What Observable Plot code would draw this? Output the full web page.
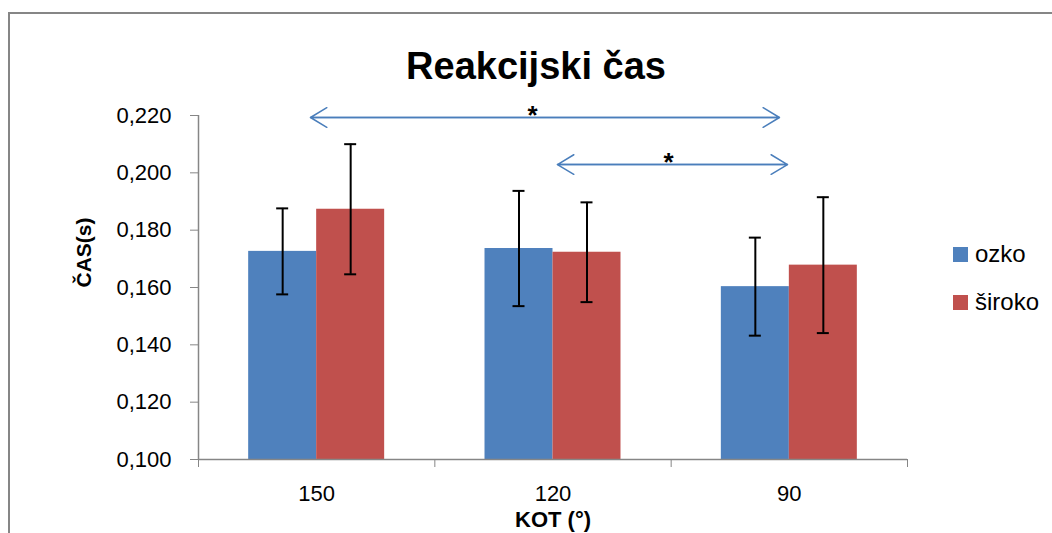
<!DOCTYPE html>
<html>
<head>
<meta charset="utf-8">
<script src="https://cdn.jsdelivr.net/npm/d3@7"></script>
<script src="https://cdn.jsdelivr.net/npm/@observablehq/plot@0.6"></script>
<style>
  html, body { margin: 0; padding: 0; background: #fff; overflow: hidden; }
  #wrap { position: relative; width: 1052px; height: 533px; font-family: "Liberation Sans", Arial, sans-serif; }
  #frame { position: absolute; left: 8px; top: 12px; width: 1200px; height: 700px;
           border-top: 2px solid #868686; border-left: 2px solid #868686; }
  #title { position: relative; height: 100px; }
  #title span { position: absolute; left: 536px; top: 47px; transform: translateX(-50%);
                font-size: 38px; font-weight: bold; line-height: 38px; white-space: nowrap; color: #000; }
  #chart { position: relative; }
  #legend { position: absolute; left: 953px; top: 230px; }
  .row { display: flex; align-items: center; height: 48px; font-size: 24px; color: #000; }
  .sw { width: 15px; height: 15px; margin-right: 7px; }
</style>
</head>
<body>
<div id="wrap">
  <div id="frame"></div>
  <div id="title"><span id="titleText"></span></div>
  <div id="chart"></div>
  <div id="legend"></div>
</div>
<script>
// ---- data ----
const titleText = "Reakcijski čas";
const categories = ["150", "120", "90"];
const seriesNames = ["ozko", "široko"];
const seriesColors = ["#4F81BD", "#C0504D"];
const ozko = [0.1726, 0.1736, 0.1603];
const ozkoErr = [0.0150, 0.0201, 0.0171];
const siroko = [0.1873, 0.1723, 0.1678];
const sirokoErr = [0.0227, 0.0174, 0.0237];
const yTicks = [0.100, 0.120, 0.140, 0.160, 0.180, 0.200, 0.220];
const yTickLabels = ["0,100", "0,120", "0,140", "0,160", "0,180", "0,200", "0,220"];
const yLabel = "ČAS(s)";
const xLabel = "KOT (°)";
// significance arrows (x in category-band units, y in seconds)
const arrowStart = [0.474, 1.519];
const arrowEnd = [2.458, 2.492];
const arrowLevel = [0.2193, 0.2029];
const starX = [1.413, 1.989];
const starText = ["*", "*"];

// ---- build ----
document.getElementById("titleText").textContent = titleText;

const barFrac = 0.2877; // bar width as fraction of category band
const rows = [];
categories.forEach((c, i) => {
  [[ozko, ozkoErr], [siroko, sirokoErr]].forEach(([vals, errs], s) => {
    const x1 = s === 0 ? i + 0.5 - barFrac : i + 0.5;
    const x2 = s === 0 ? i + 0.5 : i + 0.5 + barFrac;
    rows.push({cat: c, series: seriesNames[s], x1, x2, xc: (x1 + x2) / 2, v: vals[i], e: errs[i]});
  });
});
const arrows = arrowStart.map((a, k) => ({a, b: arrowEnd[k], y: arrowLevel[k]}));
const stars = starX.map((x, k) => ({x, y: arrowLevel[k], t: starText[k]}));

const yMin = yTicks[0];
const gray = "#868686";
const arrowColor = "#4A7EBB";

const plot = Plot.plot({
  width: 1052,
  height: 433,
  marginLeft: 198,
  marginRight: 145,
  marginTop: 15,
  marginBottom: 74,
  style: {fontFamily: "'Liberation Sans', Arial, sans-serif", fontSize: "22px", color: "#000", background: "transparent"},
  x: {type: "linear", domain: [0, categories.length], label: null},
  y: {domain: [yTicks[0], yTicks[yTicks.length - 1]], label: null},
  color: {domain: seriesNames, range: seriesColors},
  marks: [
    Plot.rect(rows, {x1: "x1", x2: "x2", y1: () => yMin, y2: "v", fill: "series"}),
    Plot.axisY({ticks: yTicks, tickFormat: d => yTickLabels[yTicks.findIndex(t => Math.abs(t - d) < 1e-9)],
                tickSize: 8, tickPadding: 19, stroke: gray, fill: "#000", fontSize: 22, label: null}),
    Plot.axisX({ticks: d3.range(categories.length + 1), tickFormat: () => "", tickSize: 8,
                stroke: gray, label: null}),
    Plot.axisX({ticks: categories.map((c, i) => i + 0.5), tickFormat: d => categories[Math.floor(d)],
                tickSize: 0, tickPadding: 26, fill: "#000", fontSize: 22, label: null}),
    Plot.ruleX([0], {stroke: gray, strokeWidth: 1.5}),
    Plot.ruleY([yMin], {stroke: gray, strokeWidth: 1.5}),
    Plot.ruleX(rows, {x: "xc", y1: d => d.v - d.e, y2: d => d.v + d.e, stroke: "#000", strokeWidth: 2}),
    Plot.ruleY(rows, {y: d => d.v + d.e, x1: "xc", x2: "xc", insetLeft: -6, insetRight: -6, stroke: "#000", strokeWidth: 2}),
    Plot.ruleY(rows, {y: d => d.v - d.e, x1: "xc", x2: "xc", insetLeft: -6, insetRight: -6, stroke: "#000", strokeWidth: 2}),
    Plot.arrow(arrows, {x1: "a", x2: "b", y1: "y", y2: "y", stroke: arrowColor, strokeWidth: 1.5, headLength: 19, headAngle: 62}),
    Plot.arrow(arrows, {x1: "b", x2: "a", y1: "y", y2: "y", stroke: arrowColor, strokeWidth: 1.5, headLength: 19, headAngle: 62}),
    Plot.text(stars, {x: "x", y: "y", text: "t", lineAnchor: "bottom", dy: 6, fontSize: 26, fontWeight: "bold", fill: "#000"}),
    Plot.text([yLabel], {frameAnchor: "left", dx: -114, rotate: -90, fontSize: 21, fontWeight: "bold", fill: "#000"}),
    Plot.text([xLabel], {frameAnchor: "bottom", dy: 52, lineAnchor: "top", fontSize: 22, fontWeight: "bold", fill: "#000"})
  ]
});
document.getElementById("chart").appendChild(plot);

const legend = document.getElementById("legend");
seriesNames.forEach((n, i) => {
  const row = document.createElement("div");
  row.className = "row";
  const sw = document.createElement("div");
  sw.className = "sw";
  sw.style.background = seriesColors[i];
  const t = document.createElement("span");
  t.textContent = n;
  row.appendChild(sw);
  row.appendChild(t);
  legend.appendChild(row);
});
</script>
</body>
</html>
